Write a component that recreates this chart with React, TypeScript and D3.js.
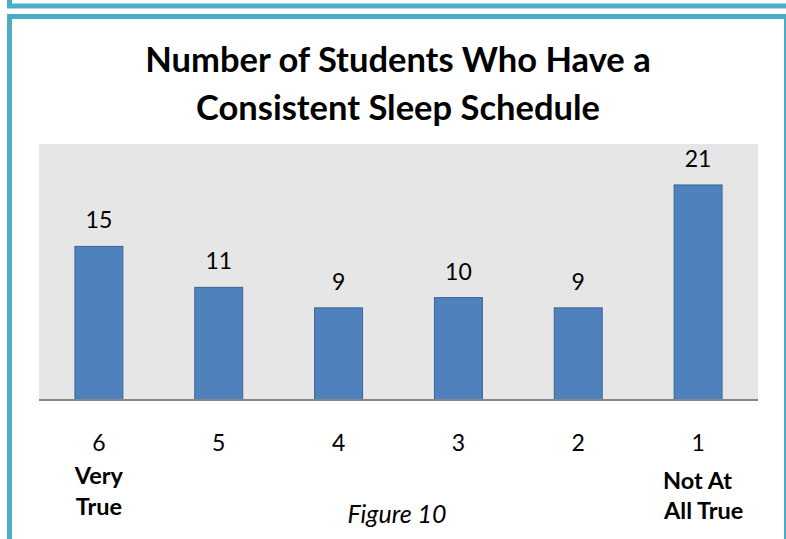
import React from 'react';
import { scaleBand, scaleLinear } from 'd3';

const categories = ['6', '5', '4', '3', '2', '1'];
const students = [15, 11, 9, 10, 9, 21];
const titleLines = ['Number of Students Who Have a', 'Consistent Sleep Schedule'];

const width = 786,
  height = 539;
const plot = { left: 39, right: 758, top: 144, bottom: 400 };
const teal = '#4BACC6';
const font = 'Lato, "Open Sans", sans-serif';

function App() {
  // x scale: one band per rating, bars ~40% of the step
  const xScale = scaleBand<string>()
    .domain(categories)
    .range([plot.left, plot.right])
    .paddingInner(0.6)
    .paddingOuter(0.3);

  // y scale
  const yScale = scaleLinear().domain([0, 25]).range([plot.bottom, plot.top]);

  const cx = (c: string) => (xScale(c) ?? 0) + xScale.bandwidth() / 2;

  return (
    <svg
      width={width}
      height={height}
      style={{ position: 'absolute', left: 0, top: 0, display: 'block', background: '#fff' }}
      fontFamily={font}
    >
      {/* frames */}
      <rect x={9.5} y={-100} width={800} height={106} fill="none" stroke={teal} strokeWidth={5} />
      <rect x={9.5} y={16.5} width={777} height={600} fill="#fff" stroke={teal} strokeWidth={5} />

      {/* title */}
      <g fontWeight="bold" fontSize={34.5} textAnchor="middle" fill="#000">
        {titleLines.map((t, i) => (
          <text key={t} x={398} y={72 + i * 48}>
            {t}
          </text>
        ))}
      </g>

      {/* plot area */}
      <rect
        x={plot.left}
        y={plot.top}
        width={plot.right - plot.left}
        height={plot.bottom - plot.top}
        fill="#E6E6E6"
      />

      {/* bars */}
      {students.map((v, i) => (
        <rect
          key={categories[i]}
          x={xScale(categories[i])}
          y={yScale(v)}
          width={xScale.bandwidth()}
          height={yScale(0) - yScale(v)}
          fill="#4F81BD"
          stroke="#3A6399"
          strokeWidth={1}
        />
      ))}

      {/* axis line */}
      <line
        x1={plot.left}
        x2={plot.right}
        y1={yScale(0)}
        y2={yScale(0)}
        stroke="#868686"
        strokeWidth={2}
      />

      {/* value labels */}
      <g fontSize={23} textAnchor="middle" fill="#000">
        {students.map((v, i) => (
          <text key={categories[i]} x={cx(categories[i])} y={yScale(v) - 18}>
            {v}
          </text>
        ))}
      </g>

      {/* category labels */}
      <g fontSize={23} textAnchor="middle" fill="#000">
        {categories.map((c) => (
          <text key={c} x={cx(c)} y={451}>
            {c}
          </text>
        ))}
      </g>

      {/* scale anchors */}
      <g fontSize={23.5} fontWeight="bold" fill="#000">
        <text x={cx('6')} y={484} textAnchor="middle">Very</text>
        <text x={cx('6')} y={515} textAnchor="middle">True</text>
        <text x={663} y={489}>Not At</text>
        <text x={664} y={519}>All True</text>
      </g>

      <text x={397} y={523} fontSize={25} fontStyle="italic" textAnchor="middle" fill="#000">
        Figure 10
      </text>
    </svg>
  );
}

export default App;
